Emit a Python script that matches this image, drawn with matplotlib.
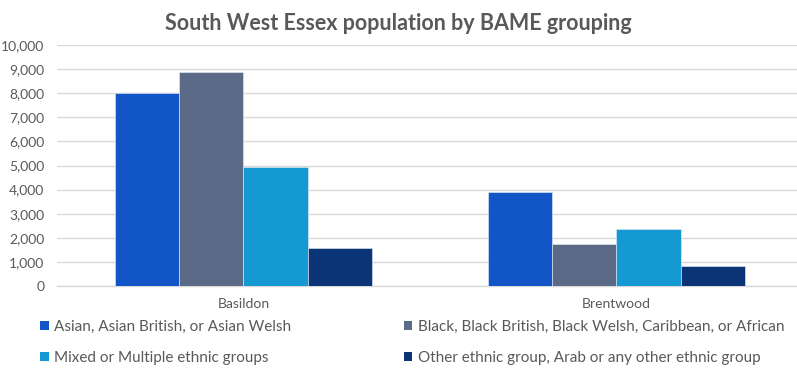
import matplotlib
matplotlib.use("Agg")
import numpy as np
import matplotlib.pyplot as plt
from matplotlib.patches import Patch
from matplotlib.ticker import FuncFormatter

plt.rcParams["font.family"] = ["Lato", "DejaVu Sans"]

areas = ["Basildon", "Brentwood"]
groups = [
    "Asian, Asian British, or Asian Welsh",
    "Black, Black British, Black Welsh, Caribbean, or African",
    "Mixed or Multiple ethnic groups",
    "Other ethnic group, Arab or any other ethnic group",
]
asian = [7990, 3900]
black = [8890, 1740]
mixed = [4940, 2370]
other = [1590, 820]
colours = ["#1155C6", "#5B6A86", "#1499D3", "#0B3477"]

TEXT = "#595959"
GRID = "#D9D9D9"

fig = plt.figure(figsize=(7.97, 3.76), dpi=100)
ax = fig.add_axes([57 / 797, 1 - 286 / 376, 740 / 797, (286 - 45) / 376])

x = np.arange(len(areas))
w = 0.689 / 4
series = [asian, black, mixed, other]
for i, (vals, c) in enumerate(zip(series, colours)):
    ax.bar(x + (i - 1.5) * w, vals, width=w, color=c, edgecolor="#E8EEF8",
           linewidth=0.4, zorder=3)

ax.set_xlim(-0.5, 1.484)
ax.set_ylim(0, 10000)
ax.set_yticks(np.arange(0, 10001, 1000))
ax.yaxis.set_major_formatter(FuncFormatter(lambda v, p: f"{int(v):,}"))
ax.set_xticks(x)
ax.set_xticklabels(areas)
ax.tick_params(axis="y", length=0, labelsize=10, colors=TEXT, pad=9)
ax.tick_params(axis="x", length=0, labelsize=10, colors=TEXT, pad=9)
ax.grid(True, axis="y", color=GRID, linewidth=1, zorder=0)
for s in ["top", "right", "left"]:
    ax.spines[s].set_visible(False)
ax.spines["bottom"].set_color(GRID)
ax.spines["bottom"].set_linewidth(1)

fig.text(0.5, 1 - 24 / 376, "South West Essex population by BAME grouping",
         ha="center", va="center", fontsize=15.5, fontweight="bold", color=TEXT)

handles = [Patch(facecolor=c, edgecolor="none") for c in colours]
order = [0, 2, 1, 3]
fig.legend([handles[i] for i in order], [groups[i] for i in order],
           ncol=2, loc="upper left", bbox_to_anchor=(34 / 797, 1 - 314 / 376),
           frameon=False, fontsize=11, labelcolor=TEXT,
           handlelength=0.55, handleheight=0.55, handletextpad=0.35,
           columnspacing=7.4, labelspacing=1.1, borderaxespad=0)

fig.savefig("out.png", dpi=100)
